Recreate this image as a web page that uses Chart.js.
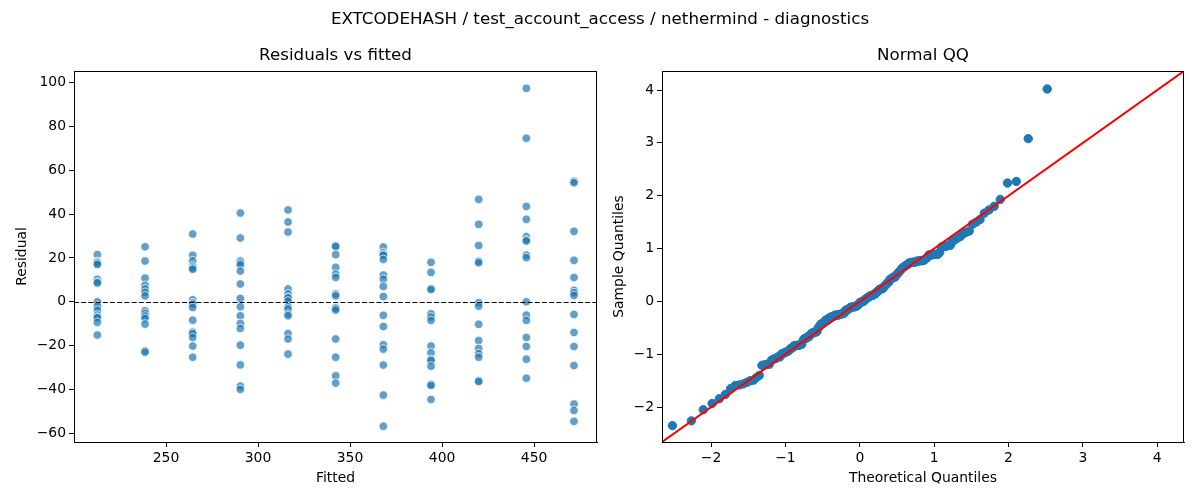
<!DOCTYPE html>
<html>
<head>
<meta charset="utf-8">
<script src="https://cdn.jsdelivr.net/npm/chart.js@4/dist/chart.umd.min.js"></script>
<style>
  body { margin: 0; background: #fff; }
  #wrap { position: relative; width: 1200px; height: 500px; }
  #suptitle {
    position: absolute; left: 0; top: 8px; width: 1200px; line-height: 20px;
    text-align: center; font: 16.7px "DejaVu Sans", sans-serif; color: #000;
  }
  canvas { position: absolute; top: 0; }
</style>
</head>
<body>
<div id="wrap">
  <canvas id="resid" width="600" height="500" style="left:0"></canvas>
  <canvas id="qq" width="600" height="500" style="left:600px"></canvas>
  <div id="suptitle">EXTCODEHASH / test_account_access / nethermind - diagnostics</div>
</div>
<script>
// fitted levels (x) and residuals observed at each level
const fittedLevels = [212.7, 238.6, 264.5, 290.4, 316.3, 342.2, 368.1, 394.0, 419.9, 445.8, 471.7];
const residualsByLevel = [
  [21.5, 18.4, 18.0, 17.6, 17.0, 10.2, 8.9, 8.6, 0, -2.0, -3.8, -6.1, -7.0, -7.3, -9.4, -15.2],
  [25.1, 18.6, 10.8, 7.5, 5.8, 4.3, 2.7, -4.1, -5.3, -6.5, -7.6, -10.2, -22.4, -23.0],
  [30.9, 21.2, 18.7, 16.2, 15.4, 14.8, 0.9, -0.5, -1.1, -2.6, -8.4, -13.7, -14.0, -14.6, -16.3, -20.2, -25.3],
  [40.5, 29.1, 18.7, 17.7, 16.8, 14.0, 8.1, 1.5, -2.3, -6.4, -9.9, -12.2, -19.8, -28.8, -38.5, -40.0],
  [41.9, 36.4, 31.8, 5.8, 3.5, 2.0, 1.8, 0.3, -2.3, -3.3, -5.6, -6.4, -14.5, -17.0, -23.9],
  [25.6, 25.2, 21.5, 15.7, 12.6, 11.1, 3.5, 2.7, -2.6, -3.0, -3.8, -17.0, -25.3, -33.8, -37.1],
  [25.0, 22.4, 21.6, 21.2, 19.3, 12.2, 10.3, 7.0, 2.4, -6.2, -11.3, -19.6, -21.6, -28.9, -42.6, -56.8],
  [18.0, 13.4, 6.0, 5.6, -5.5, -7.0, -8.5, -20.2, -23.3, -26.3, -26.8, -29.4, -37.7, -38.2, -44.6],
  [46.7, 35.3, 25.7, 18.5, 17.8, -0.5, -2.0, -10.3, -17.7, -21.3, -23.7, -25.3, -36.0, -36.4],
  [97.4, 74.6, 43.5, 37.6, 29.7, 28.2, 27.7, 21.3, 20.1, 0, -6.1, -8.5, -16.3, -20.4, -26.2, -34.9],
  [55.0, 54.3, 32.1, 18.9, 11.1, 5.2, 4.1, 2.9, -5.8, -14.0, -20.4, -29.1, -46.7, -49.6, -54.6]
];
const residXTicks = [250, 300, 350, 400, 450];
const residYTicks = [-60, -40, -20, 0, 20, 40, 60, 80, 100];
const residXRange = [200.0, 484.2];
const residYRange = [-64.0, 105.3];

// normal QQ: theoretical vs sample quantiles
const qqTheoretical = [
  -2.52, -2.265, -2.105, -1.986, -1.889, -1.808, -1.737, -1.674, -1.617, -1.565,
  -1.516, -1.472, -1.429, -1.39, -1.352, -1.316, -1.282, -1.249, -1.217, -1.187,
  -1.157, -1.129, -1.101, -1.075, -1.049, -1.024, -0.999, -0.975, -0.952, -0.929,
  -0.906, -0.884, -0.863, -0.842, -0.821, -0.8, -0.78, -0.76, -0.741, -0.722,
  -0.703, -0.684, -0.665, -0.647, -0.629, -0.611, -0.593, -0.576, -0.559, -0.542,
  -0.524, -0.508, -0.491, -0.474, -0.458, -0.441, -0.425, -0.409, -0.393, -0.377,
  -0.361, -0.346, -0.33, -0.315, -0.299, -0.284, -0.269, -0.253, -0.238, -0.223,
  -0.208, -0.193, -0.178, -0.163, -0.148, -0.133, -0.118, -0.104, -0.089, -0.074,
  -0.059, -0.044, -0.03, -0.015, 0,
  0.015, 0.03, 0.044, 0.059, 0.074, 0.089, 0.104, 0.118, 0.133, 0.148,
  0.163, 0.178, 0.193, 0.208, 0.223, 0.238, 0.253, 0.269, 0.284, 0.299,
  0.315, 0.33, 0.346, 0.361, 0.377, 0.393, 0.409, 0.425, 0.441, 0.458,
  0.474, 0.491, 0.508, 0.524, 0.542, 0.559, 0.576, 0.593, 0.611, 0.629,
  0.647, 0.665, 0.684, 0.703, 0.722, 0.741, 0.76, 0.78, 0.8, 0.821,
  0.842, 0.863, 0.884, 0.906, 0.929, 0.952, 0.975, 0.999, 1.024, 1.049,
  1.075, 1.101, 1.129, 1.157, 1.187, 1.217, 1.249, 1.282, 1.316, 1.352,
  1.39, 1.429, 1.472, 1.516, 1.565, 1.617, 1.674, 1.737, 1.808, 1.889,
  1.986, 2.105, 2.265, 2.52
];
const qqSample = [
  -2.35, -2.26, -2.05, -1.93, -1.84, -1.76, -1.65, -1.59, -1.58, -1.56,
  -1.53, -1.50, -1.49, -1.44, -1.40, -1.21, -1.20, -1.19, -1.19, -1.11,
  -1.09, -1.08, -1.05, -1.05, -0.99, -0.98, -0.96, -0.95, -0.93, -0.89,
  -0.88, -0.84, -0.84, -0.83, -0.83, -0.82, -0.81, -0.73, -0.70, -0.70,
  -0.67, -0.67, -0.63, -0.60, -0.60, -0.58, -0.58, -0.57, -0.50, -0.47,
  -0.43, -0.42, -0.41, -0.39, -0.35, -0.35, -0.35, -0.31, -0.30, -0.29,
  -0.29, -0.27, -0.26, -0.26, -0.26, -0.25, -0.25, -0.24, -0.23, -0.23,
  -0.22, -0.17, -0.16, -0.16, -0.14, -0.12, -0.11, -0.11, -0.10, -0.10,
  -0.10, -0.08, -0.08, -0.05, -0.02, -0.02, 0, 0,
  0.01, 0.04, 0.06, 0.07, 0.08, 0.10, 0.11, 0.11, 0.12, 0.14,
  0.14, 0.17, 0.18, 0.21, 0.23, 0.24, 0.24, 0.25, 0.29, 0.31,
  0.33, 0.36, 0.37, 0.42, 0.43, 0.45, 0.46, 0.46, 0.50, 0.52,
  0.55, 0.58, 0.61, 0.64, 0.65, 0.67, 0.69, 0.70, 0.73, 0.73,
  0.74, 0.74, 0.74, 0.76, 0.76, 0.77, 0.77, 0.77, 0.78, 0.80,
  0.83, 0.88, 0.88, 0.88, 0.89, 0.89, 0.89, 0.93, 1.03, 1.04,
  1.04, 1.06, 1.06, 1.14, 1.17, 1.20, 1.23, 1.28, 1.31, 1.33,
  1.46, 1.50, 1.55, 1.67, 1.73, 1.80, 1.93, 2.24, 2.27, 3.08,
  4.02
];
const qqTicks = [-2, -1, 0, 1, 2, 3, 4];
const qqRange = [-2.66, 4.36];

const FONT = '"DejaVu Sans", sans-serif';
const minus = v => String(v).replace('-', '\u2212');

// draws frame, subplot title, axis titles and optional zero line
const decor = {
  id: 'decor',
  afterDatasetsDraw(chart, args, o) {
    const { ctx, chartArea: a } = chart;
    if (!o.zeroLine) return;
    const y = Math.round(chart.scales.y.getPixelForValue(0)) + 0.5;
    ctx.save();
    ctx.strokeStyle = '#000';
    ctx.lineWidth = 1;
    ctx.setLineDash([5, 2.2]);
    ctx.beginPath();
    ctx.moveTo(a.left, y);
    ctx.lineTo(a.right, y);
    ctx.stroke();
    ctx.restore();
  },
  afterDraw(chart, args, o) {
    const { ctx, chartArea: a } = chart;
    ctx.save();
    ctx.strokeStyle = '#000';
    ctx.lineWidth = 1;
    ctx.strokeRect(a.left + 0.5, a.top + 0.5, a.right - a.left - 1, a.bottom - a.top);
    ctx.fillStyle = '#000';
    ctx.textAlign = 'center';
    ctx.textBaseline = 'middle';
    const cx = (a.left + a.right) / 2;
    ctx.font = '16.7px ' + FONT;
    ctx.fillText(o.title, cx, 56);
    ctx.font = '13.9px ' + FONT;
    ctx.fillText(o.xTitle, cx, 478);
    ctx.translate(o.yTitleX, (a.top + a.bottom) / 2);
    ctx.rotate(-Math.PI / 2);
    ctx.fillText(o.yTitle, 0, 0);
    ctx.restore();
  }
};

function axis(range, ticks, width, height) {
  return {
    type: 'linear', min: range[0], max: range[1],
    ticks: {
      includeBounds: false, color: '#000', padding: 3,
      font: { family: FONT, size: 13.9 },
      callback: v => minus(v)
    },
    afterBuildTicks: s => { s.ticks = ticks.map(v => ({ value: v })); },
    afterFit: s => {
      if (width !== undefined) s.width = width;
      if (height !== undefined) s.height = height;
      s.paddingLeft = s.paddingRight = s.paddingTop = s.paddingBottom = 0;
    },
    grid: { drawOnChartArea: false, drawTicks: true, tickLength: 5, color: '#000' },
    border: { display: true, color: '#000', width: 1 }
  };
}

// residuals vs fitted
const residPoints = [];
fittedLevels.forEach((f, i) => residualsByLevel[i].forEach(r => residPoints.push({ x: f, y: r })));

new Chart(document.getElementById('resid'), {
  type: 'scatter',
  data: {
    datasets: [{
      data: residPoints,
      backgroundColor: 'rgba(31,119,180,0.7)',
      borderColor: '#ffffff',
      borderWidth: 0.75,
      pointRadius: 4.3
    }]
  },
  options: {
    responsive: false, animation: false, devicePixelRatio: 1,
    layout: { autoPadding: false, padding: { left: 0, top: 71, right: 3, bottom: 0 } },
    plugins: {
      legend: { display: false }, tooltip: { enabled: false },
      decor: { title: 'Residuals vs fitted', xTitle: 'Fitted', yTitle: 'Residual', yTitleX: 22, zeroLine: true }
    },
    scales: {
      x: axis(residXRange, residXTicks, undefined, 58),
      y: axis(residYRange, residYTicks, 74, undefined)
    }
  },
  plugins: [decor]
});

// normal QQ
const qqPoints = qqTheoretical.map((t, i) => ({ x: t, y: qqSample[i] }));

new Chart(document.getElementById('qq'), {
  type: 'scatter',
  data: {
    datasets: [
      {
        type: 'line',
        data: [{ x: qqRange[0], y: qqRange[0] }, { x: qqRange[1], y: qqRange[1] }],
        borderColor: '#ff0000', borderWidth: 2, pointRadius: 0, order: 0
      },
      {
        data: qqPoints,
        backgroundColor: '#1f77b4',
        borderColor: '#1f77b4',
        borderWidth: 1,
        pointRadius: 4.2,
        order: 1
      }
    ]
  },
  options: {
    responsive: false, animation: false, devicePixelRatio: 1,
    layout: { autoPadding: false, padding: { left: 0, top: 71, right: 16, bottom: 0 } },
    plugins: {
      legend: { display: false }, tooltip: { enabled: false },
      decor: { title: 'Normal QQ', xTitle: 'Theoretical Quantiles', yTitle: 'Sample Quantiles', yTitleX: 19 }
    },
    scales: {
      x: axis(qqRange, qqTicks, undefined, 58),
      y: axis(qqRange, qqTicks, 62, undefined)
    }
  },
  plugins: [decor]
});
</script>
</body>
</html>
